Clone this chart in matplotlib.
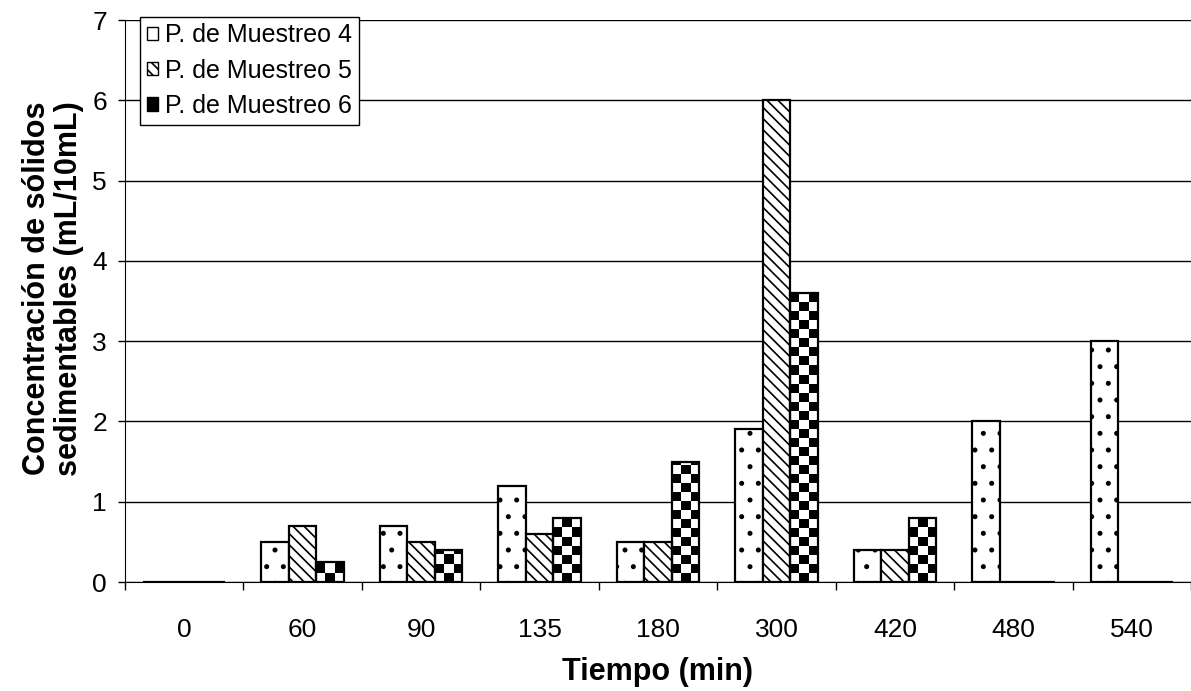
import numpy as np
import matplotlib
matplotlib.use("Agg")
import matplotlib.pyplot as plt
from matplotlib.patches import Patch

plt.rcParams['font.family'] = ['Liberation Sans', 'DejaVu Sans']
plt.rcParams['hatch.linewidth'] = 1.2

# datos
tiempos = ['0', '60', '90', '135', '180', '300', '420', '480', '540']
muestreo_4 = [0, 0.5, 0.7, 1.2, 0.5, 1.9, 0.4, 2.0, 3.0]
muestreo_5 = [0, 0.7, 0.5, 0.6, 0.5, 6.0, 0.4, 0, 0]
muestreo_6 = [0, 0.25, 0.4, 0.8, 1.5, 3.6, 0.8, 0, 0]
nombres = ['P. de Muestreo 4', 'P. de Muestreo 5', 'P. de Muestreo 6']

fig = plt.figure(figsize=(11.91, 6.91), dpi=100)
ax = fig.add_axes([125/1191, 109/691, 1066/1191, 562/691])

x = np.arange(len(tiempos))
w = 0.232
ax.bar(x - w, muestreo_4, w, color='white', edgecolor='black', linewidth=1.6,
       hatch='.', zorder=3)
ax.bar(x, muestreo_5, w, color='white', edgecolor='black', linewidth=1.6,
       hatch='\\\\\\', zorder=3)
b6 = ax.bar(x + w, muestreo_6, w, facecolor='none', edgecolor='black',
            linewidth=1.6, zorder=3)

# relleno de tablero de ajedrez para la serie 6
celda = 0.112
for r in b6:
    h = r.get_height()
    if h <= 0:
        continue
    nfil = int(np.ceil(h / celda))
    tablero = np.add.outer(np.arange(nfil), np.arange(3)) % 2
    im = ax.imshow(tablero, cmap='gray_r', origin='lower', interpolation='nearest',
                   aspect='auto', zorder=2.9,
                   extent=(r.get_x(), r.get_x() + r.get_width(), 0, nfil * celda))
    im.set_clip_path(r)

ax.set_xlim(-0.5, 8.5)
ax.set_ylim(0, 7)
ax.set_xticks(np.arange(-0.5, 9, 1))
ax.set_xticklabels([])
ax.set_xticks(x, minor=True)
ax.set_xticklabels(tiempos, minor=True)
ax.tick_params(axis='x', which='major', length=6, width=1, direction='out')
ax.tick_params(axis='x', which='minor', length=0, pad=26, labelsize=19)
ax.set_yticks(range(8))
ax.tick_params(axis='y', length=5, width=1, pad=8, labelsize=19)
ax.yaxis.grid(True, color='black', linewidth=1)
ax.set_axisbelow(True)
ax.spines['top'].set_visible(False)
ax.spines['right'].set_visible(False)

ax.set_xlabel('Tiempo (min)', fontsize=22, fontweight='bold', labelpad=11)
ax.set_ylabel('Concentración de sólidos\nsedimentables (mL/10mL)', fontsize=22,
              fontweight='bold', linespacing=1.1)
ax.yaxis.set_label_coords(-0.038, 0.522)

handles = [Patch(facecolor='white', edgecolor='black'),
           Patch(facecolor='white', edgecolor='black', hatch='\\\\\\'),
           Patch(facecolor='black', edgecolor='black')]
leg = ax.legend(handles, nombres, loc='upper left', bbox_to_anchor=(0.014, 1.006),
                borderaxespad=0, fontsize=18, fancybox=False, edgecolor='black',
                framealpha=1, handlelength=0.45, handleheight=0.45, handletextpad=0.3,
                labelspacing=0.45, borderpad=0.27)
leg.get_frame().set_linewidth(1.0)

fig.savefig('out.png', dpi=100)
